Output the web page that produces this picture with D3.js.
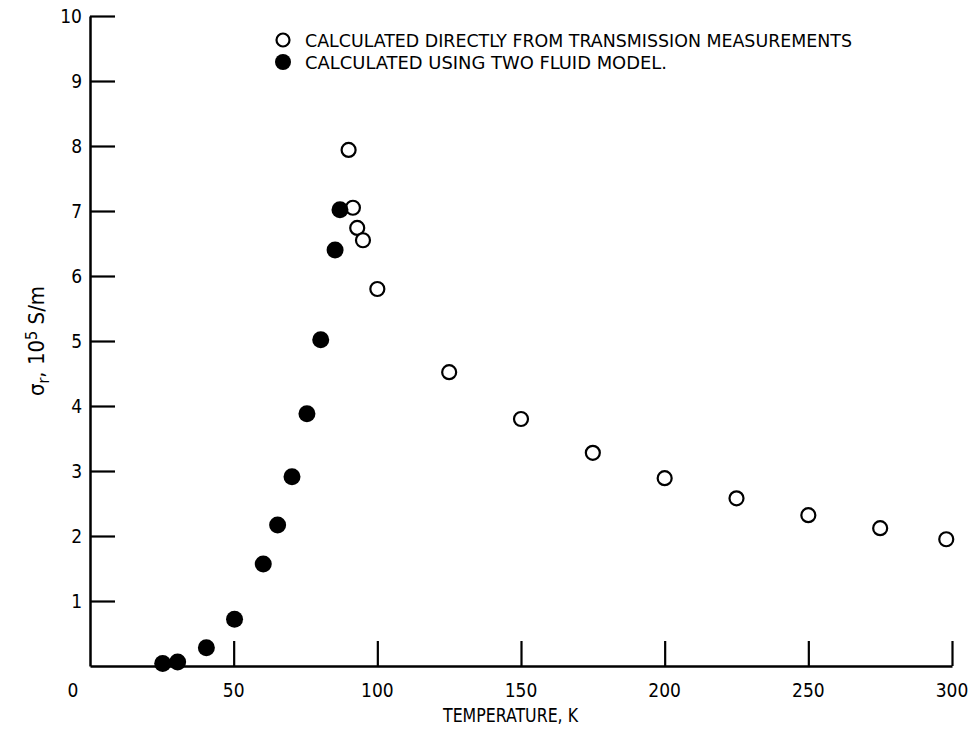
<!DOCTYPE html>
<html>
<head>
<meta charset="utf-8">
<script src="https://cdn.jsdelivr.net/npm/d3@7"></script>
<style>
  body { margin: 0; background: #fff; }
  text { font-family: "DejaVu Sans Condensed", "DejaVu Sans", sans-serif; font-stretch: condensed; fill: #000; }
</style>
</head>
<body>
<div id="chart"></div>
<script>
// data (temperature K, sigma_r in 10^5 S/m)
var openTemp = [90, 91.5, 93, 95, 100, 125, 150, 175, 200, 225, 250, 275, 298];
var openSigma = [7.94, 7.05, 6.74, 6.55, 5.80, 4.52, 3.80, 3.28, 2.89, 2.58, 2.32, 2.12, 1.95];
var filledTemp = [25.3, 30.5, 40.5, 50.3, 60.3, 65.3, 70.3, 75.5, 80.3, 85.3, 87];
var filledSigma = [0.04, 0.06, 0.28, 0.72, 1.57, 2.17, 2.91, 3.88, 5.02, 6.40, 7.02];
var xTicks = [50, 100, 150, 200, 250, 300];
var yTicks = [1, 2, 3, 4, 5, 6, 7, 8, 9, 10];
var legendLabels = ["CALCULATED DIRECTLY FROM TRANSMISSION MEASUREMENTS", "CALCULATED USING TWO FLUID MODEL."];

var width = 974, height = 730;

var svg = d3.select("#chart")
  .append("svg")
    .attr("width", width)
    .attr("height", height);

var x = d3.scaleLinear().domain([0, 300]).range([90, 952]);
var y = d3.scaleLinear().domain([0, 10]).range([666, 16]);

// x axis, ticks pointing up into the plot
var xAxis = svg.append("g")
  .attr("transform", "translate(0," + y(0) + ")")
  .call(d3.axisTop(x).tickValues(xTicks).tickSize(25).tickSizeOuter(0).tickFormat(""));
xAxis.select(".domain").attr("stroke-width", 2.5);
xAxis.selectAll(".tick line").attr("stroke-width", 2.2);

svg.append("g")
  .selectAll("text")
  .data(xTicks)
  .enter()
  .append("text")
    .attr("x", function(d) { return x(d); })
    .attr("y", 697)
    .attr("text-anchor", "middle")
    .style("font-size", "19px")
    .text(function(d) { return d; });

svg.append("text")
  .attr("x", 73)
  .attr("y", 697)
  .attr("text-anchor", "middle")
  .style("font-size", "19px")
  .text("0");

// y axis, ticks pointing right
var yAxis = svg.append("g")
  .attr("transform", "translate(" + x(0) + ",0)")
  .call(d3.axisRight(y).tickValues(yTicks).tickSize(25).tickSizeOuter(0).tickFormat(""));
yAxis.select(".domain").attr("stroke-width", 2.5);
yAxis.selectAll(".tick line").attr("stroke-width", 2.2);

svg.append("g")
  .selectAll("text")
  .data(yTicks)
  .enter()
  .append("text")
    .attr("x", 82)
    .attr("y", function(d) { return y(d) + 7; })
    .attr("text-anchor", "end")
    .style("font-size", "19px")
    .text(function(d) { return d; });

// axis titles
svg.append("text")
  .attr("x", 443)
  .attr("y", 722)
  .style("font-size", "19px")
  .attr("textLength", 135)
  .attr("lengthAdjust", "spacingAndGlyphs")
  .text("TEMPERATURE, K");

var yTitle = svg.append("text")
  .attr("transform", "translate(44,341) rotate(-90)")
  .attr("text-anchor", "middle")
  .style("font-size", "22px");
yTitle.append("tspan").text("σ");
yTitle.append("tspan").attr("baseline-shift", "-30%").style("font-size", "16px").text("r");
yTitle.append("tspan").text(",  10");
yTitle.append("tspan").attr("baseline-shift", "45%").style("font-size", "16px").text("5");
yTitle.append("tspan").text("  S/m");

// points
svg.append("g")
  .selectAll("circle")
  .data(openTemp)
  .enter()
  .append("circle")
    .attr("cx", function(d) { return x(d); })
    .attr("cy", function(d, i) { return y(openSigma[i]); })
    .attr("r", 7)
    .attr("fill", "#fff")
    .attr("stroke", "#000")
    .attr("stroke-width", 2.2);

svg.append("g")
  .selectAll("circle")
  .data(filledTemp)
  .enter()
  .append("circle")
    .attr("cx", function(d) { return x(d); })
    .attr("cy", function(d, i) { return y(filledSigma[i]); })
    .attr("r", 8.5)
    .attr("fill", "#000");

// legend
var legend = svg.append("g");
legend.selectAll("circle")
  .data(legendLabels)
  .enter()
  .append("circle")
    .attr("cx", 283)
    .attr("cy", function(d, i) { return 40 + i * 22; })
    .attr("r", function(d, i) { return i == 0 ? 6.5 : 8; })
    .attr("fill", function(d, i) { return i == 0 ? "#fff" : "#000"; })
    .attr("stroke", "#000")
    .attr("stroke-width", function(d, i) { return i == 0 ? 2.2 : 0; });
legend.selectAll("text")
  .data(legendLabels)
  .enter()
  .append("text")
    .attr("x", 305)
    .attr("y", function(d, i) { return 47 + i * 22; })
    .style("font-size", "18px")
    .attr("textLength", function(d, i) { return i == 0 ? 547 : 362; })
    .attr("lengthAdjust", "spacingAndGlyphs")
    .text(function(d) { return d; });
</script>
</body>
</html>
